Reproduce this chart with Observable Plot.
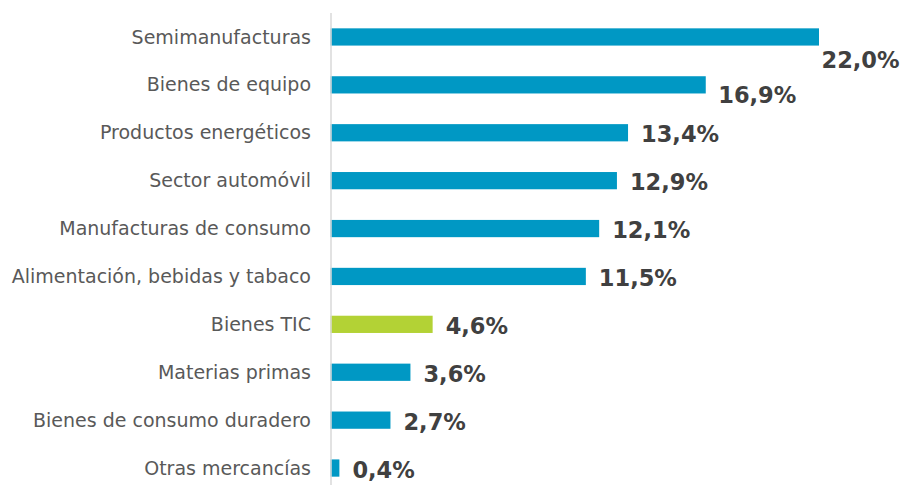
<!DOCTYPE html>
<html>
<head>
<meta charset="utf-8">
<script src="https://cdn.jsdelivr.net/npm/d3@7"></script>
<script src="https://cdn.jsdelivr.net/npm/@observablehq/plot@0.6"></script>
<style>
  html, body { margin: 0; padding: 0; background: #fff; }
  #chart svg { display: block; }
</style>
</head>
<body>
<div id="chart"></div>
<script>
const categories = [
  "Semimanufacturas",
  "Bienes de equipo",
  "Productos energéticos",
  "Sector automóvil",
  "Manufacturas de consumo",
  "Alimentación, bebidas y tabaco",
  "Bienes TIC",
  "Materias primas",
  "Bienes de consumo duradero",
  "Otras mercancías"
];
const shares = [22.0, 16.9, 13.4, 12.9, 12.1, 11.5, 4.6, 3.6, 2.7, 0.4];
const highlighted = ["Bienes TIC"];

const data = categories.map((c, i) => ({cat: c, value: shares[i]}));
const fmt = v => v.toFixed(1).replace(".", ",") + "%";

const labelStyle = {
  x: "value", y: "cat", text: d => fmt(d.value),
  textAnchor: "start",
  fontSize: 22.5, fontWeight: "bold", fill: "#404040"
};

const chart = Plot.plot({
  width: 902,
  height: 485,
  marginLeft: 330.5,
  marginRight: 83,
  marginTop: 20,
  marginBottom: 0,
  style: {fontFamily: "'DejaVu Sans', Verdana, sans-serif", background: "#fff"},
  x: {domain: [0, 22], axis: null},
  y: {domain: categories, paddingInner: 0.64, paddingOuter: 0.174, round: false, label: null},
  marks: [
    Plot.barX(data, {
      x: "value", y: "cat",
      fill: d => highlighted.includes(d.cat) ? "#b3d235" : "#0098c4"
    }),
    Plot.ruleX([0], {stroke: "#d9d9d9", strokeWidth: 1.5, insetTop: -7}),
    Plot.axisY({tickSize: 0, tickPadding: 20, fontSize: 19, fill: "#595959", label: null}),
    Plot.text(data.filter((d, i) => i === 0), {...labelStyle, dx: 2, dy: 23.5}),
    Plot.text(data.filter((d, i) => i === 1), {...labelStyle, dx: 12, dy: 10.5}),
    Plot.text(data.filter((d, i) => i > 1), {...labelStyle, dx: 12.5, dy: 2})
  ]
});
document.getElementById("chart").appendChild(chart);
</script>
</body>
</html>
